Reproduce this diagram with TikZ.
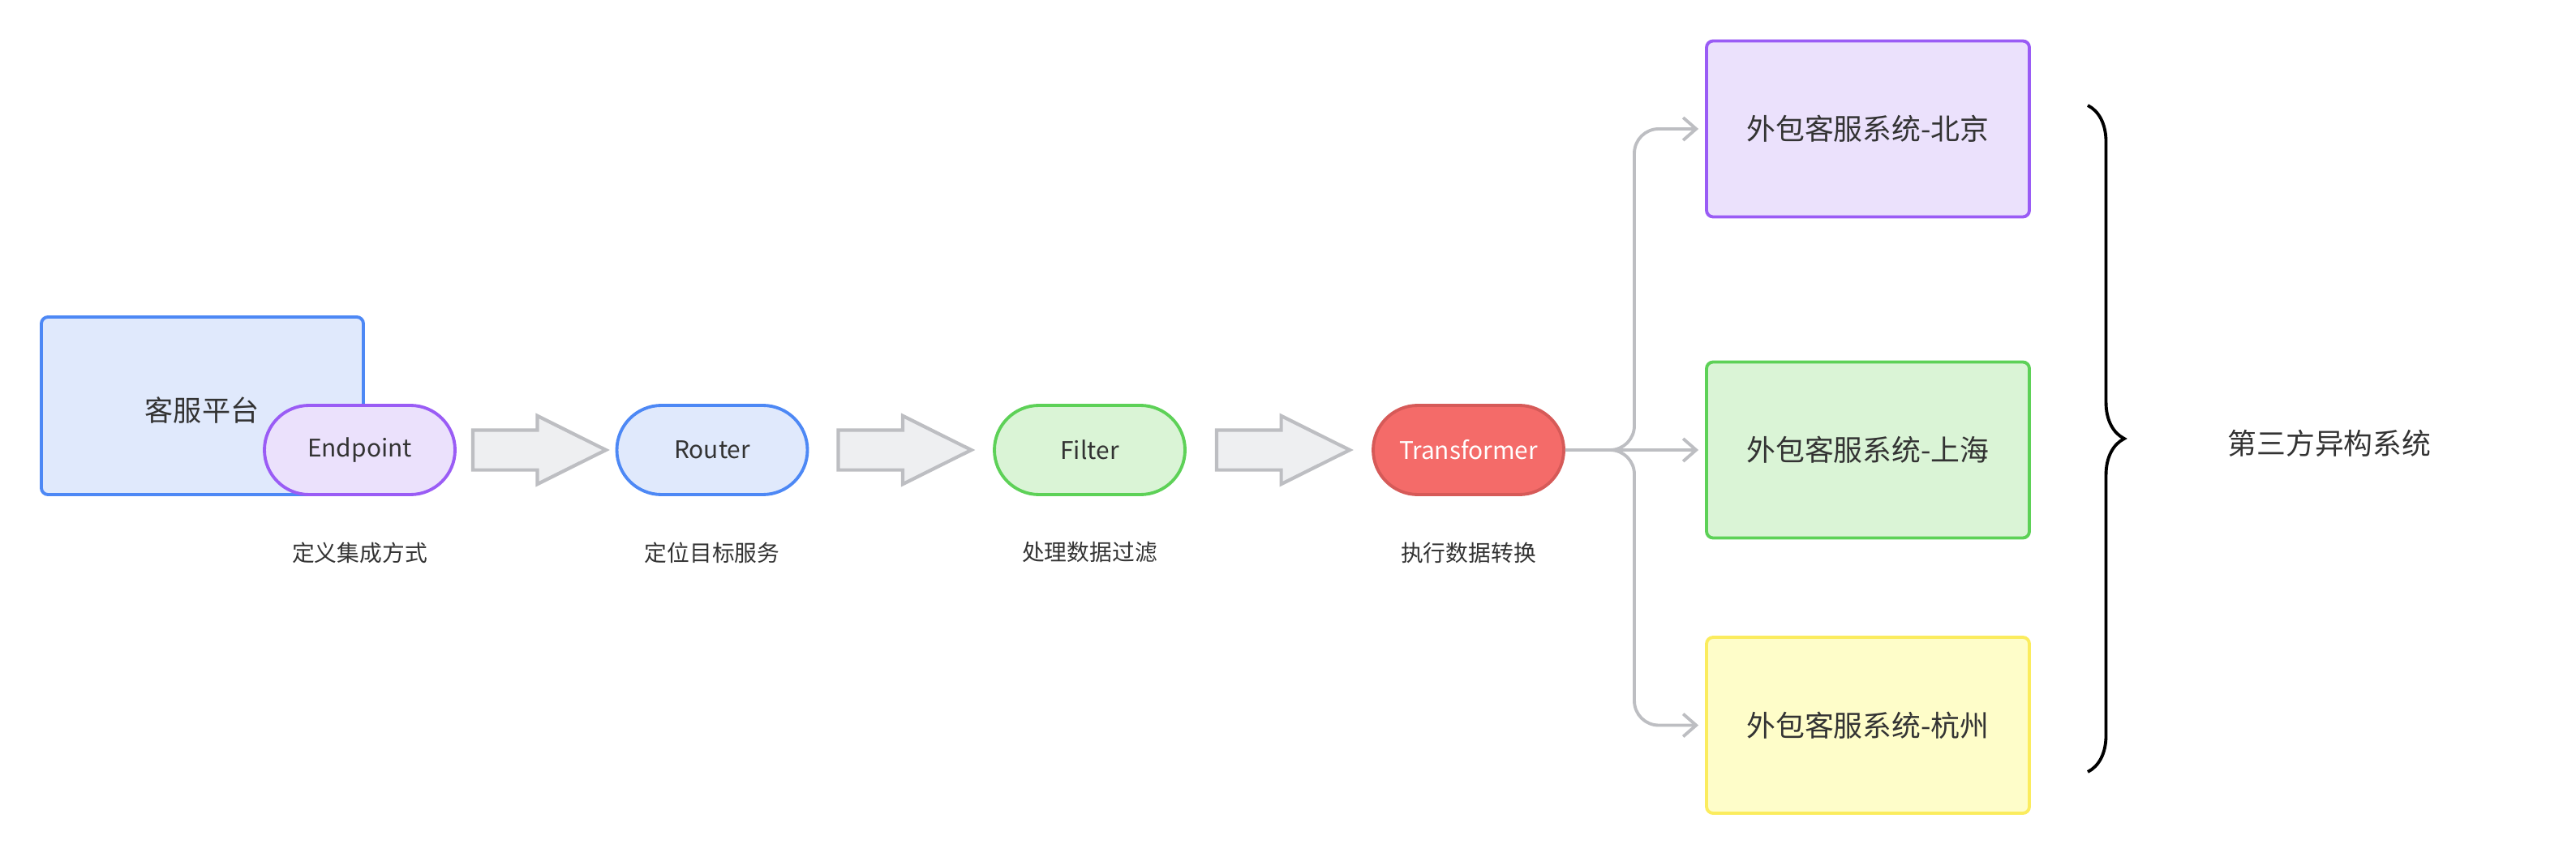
\documentclass[tikz,border=0pt]{standalone}
\usepackage{fontspec}
\setmainfont{Noto Sans CJK SC}
\usepackage{xcolor}
\usetikzlibrary{
  arrows.meta,
  positioning,
  shapes.arrows,
  calc,
  decorations.pathreplacing
}
\definecolor{kfblue}{HTML}{4D88F5}
\definecolor{kfbluebg}{HTML}{E0E9FC}
\definecolor{eppurple}{HTML}{9A5CF5}
\definecolor{eppurplebg}{HTML}{EBE1FC}
\definecolor{figreen}{HTML}{5DD157}
\definecolor{figreenbg}{HTML}{DAF4D6}
\definecolor{hzyellow}{HTML}{FBEC5E}
\definecolor{hzyellowbg}{HTML}{FEFDC9}
\definecolor{trred}{HTML}{D65A58}
\definecolor{trredbg}{HTML}{F46B69}
\definecolor{connGray}{HTML}{BDBEC2}
\definecolor{blkfill}{HTML}{EEEFF1}
\definecolor{txtgray}{HTML}{333333}

\begin{document}
\begin{tikzpicture}[
  sysbox/.style={draw, line width=1.1pt, rounded corners=2.3pt,
                 minimum width=3.98cm, minimum height=2.17cm,
                 text=txtgray, font=\fontsize{10.2}{12}\selectfont},
  pill/.style={draw, line width=1.1pt, rounded corners=0.55cm,
               minimum width=2.35cm, minimum height=1.10cm,
               text=txtgray, font=\fontsize{8.5}{10}\selectfont},
  sublabel/.style={inner sep=0pt, text=txtgray, font=\fontsize{7.9}{9}\selectfont},
  blkarrow/.style={single arrow, draw=connGray, fill=blkfill, line width=1.2pt,
                   minimum height=1.64cm, inner xsep=0pt, inner ysep=0.225cm,
                   single arrow head extend=0.175cm, single arrow tip angle=53,
                   anchor=tail},
  conn/.style={draw=connGray, line width=1.1pt, rounded corners=0.3cm,
               -{Straight Barb[length=0.16cm, width=0.28cm]}, shorten >=0.08cm}
]
\useasboundingbox (0,0) rectangle (31.76,10.56);

% customer service platform
\node[sysbox, draw=kfblue, fill=kfbluebg, minimum width=3.97cm, minimum height=2.19cm]
  (kf) at (2.495,5.555) {};
\node[text=txtgray, font=\fontsize{10}{12}\selectfont] (kftxt) at (2.49,5.50) {客服平台};

% processing chain
\node[pill, draw=eppurple, fill=eppurplebg] (ep) at (4.435,5.01) {Endpoint};
\node[pill, draw=kfblue, fill=kfbluebg] (ro) at (8.78,5.01) {Router};
\node[pill, draw=figreen, fill=figreenbg] (fi) at (13.435,5.01) {Filter};
\node[pill, draw=trred, fill=trredbg, text=white] (tr) at (18.105,5.01) {Transformer};

\node[blkarrow] (a1) at ($(ep.east)+(0.18,0)$) {};
\node[blkarrow] (a2) at ($(ro.east)+(0.34,0)$) {};
\node[blkarrow] (a3) at ($(fi.east)+(0.35,0)$) {};

\node[sublabel, below=0.56cm of ep] (epl) {定义集成方式};
\node[sublabel, below=0.56cm of ro] (rol) {定位目标服务};
\node[sublabel, below=0.56cm of fi] (fil) {处理数据过滤};
\node[sublabel, below=0.56cm of tr] (trl) {执行数据转换};

% outsourced systems
\node[sysbox, draw=eppurple, fill=eppurplebg] (bj) at (23.03,8.97) {外包客服系统-北京};
\node[sysbox, draw=figreen, fill=figreenbg] (sh) at (23.03,5.01) {外包客服系统-上海};
\node[sysbox, draw=hzyellow, fill=hzyellowbg] (hz) at (23.03,1.615) {外包客服系统-杭州};

\coordinate (split) at (20.15,5.01);
\draw[conn] (tr.east) -- (split) |- (bj.west);
\draw[conn] (tr.east) -- (sh.west);
\draw[conn] (tr.east) -- (split) |- (hz.west);

% brace
\coordinate (brtop) at (25.74,9.26);
\coordinate (brbot) at (25.74,1.04);
\draw[line width=1.1pt, decorate, decoration={brace, amplitude=0.45cm}] (brtop) -- (brbot);
\node[text=txtgray, font=\fontsize{10.2}{12}\selectfont] (third) at (28.72,5.09) {第三方异构系统};
\end{tikzpicture}
\end{document}
